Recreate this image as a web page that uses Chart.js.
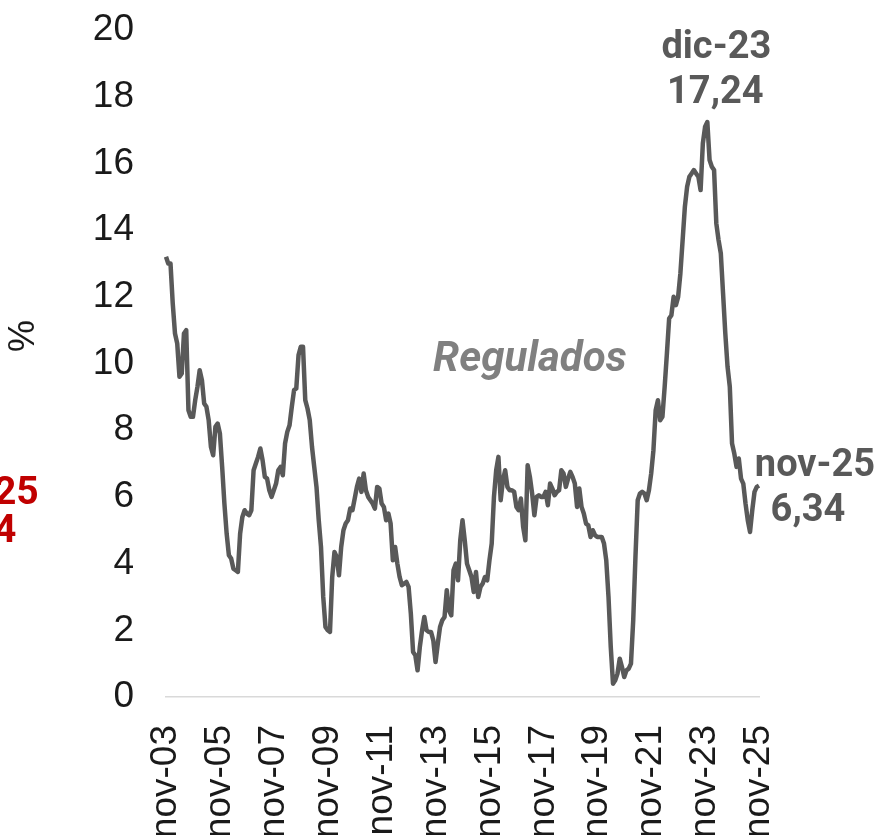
<!DOCTYPE html>
<html lang="es">
<head>
<meta charset="utf-8">
<title>Regulados</title>
<script src="https://cdn.jsdelivr.net/npm/chart.js@4.4.1/dist/chart.umd.min.js"></script>
<style>
  html, body { margin: 0; padding: 0; background: #fff; }
  #chart { position: relative; width: 879px; height: 835px; }
</style>
</head>
<body>
<div id="chart"><canvas id="canvas"></canvas></div>
<script>
const monthNames = ["ene", "feb", "mar", "abr", "may", "jun", "jul", "ago", "sep", "oct", "nov", "dic"];
const startYear = 2003;
const startMonth = 10; // nov

// inflación anual de regulados, %, nov-03 .. nov-25
const regulados = [
    13.2, 13.0, 13.0, 11.8, 10.9, 10.6, 9.6, 9.7, 10.9, 11.0, 8.6, 8.4,
    8.4, 8.9, 9.3, 9.8, 9.5, 8.8, 8.7, 8.3, 7.5, 7.25, 8.1, 8.2,
    7.9, 6.9, 5.8, 4.9, 4.25, 4.15, 3.85, 3.8, 3.75, 4.9, 5.4, 5.6,
    5.5, 5.45, 5.6, 6.8, 7.0, 7.2, 7.45, 7.1, 6.6, 6.55, 6.2, 6.0,
    6.2, 6.4, 6.8, 6.9, 6.65, 7.6, 7.95, 8.15, 8.7, 9.2, 9.25, 10.25,
    10.5, 10.5, 8.9, 8.65, 8.3, 7.5, 6.9, 6.3, 5.3, 4.5, 3.0, 2.1,
    2.0, 1.95, 3.6, 4.35, 4.2, 3.65, 4.5, 5.0, 5.2, 5.3, 5.65, 5.6,
    5.95, 6.3, 6.55, 6.15, 6.7, 6.2, 6.0, 5.9, 5.8, 5.65, 6.3, 6.25,
    5.8, 5.7, 5.3, 5.5, 5.2, 4.1, 4.5, 4.0, 3.6, 3.35, 3.4, 3.45,
    3.3, 2.5, 1.35, 1.25, 0.8, 1.5, 2.0, 2.4, 2.0, 1.95, 1.95, 1.7,
    1.05, 1.6, 2.1, 2.3, 2.4, 3.2, 2.6, 2.45, 3.8, 4.0, 3.5, 4.7,
    5.3, 4.7, 4.0, 3.8, 3.6, 3.15, 3.75, 3.0, 3.3, 3.4, 3.6, 3.5,
    4.1, 4.6, 6.0, 6.8, 7.2, 5.9, 6.5, 6.8, 6.3, 6.2, 6.2, 6.15,
    5.7, 5.6, 5.95, 5.1, 4.7, 6.95, 6.6, 6.1, 5.45, 6.0, 6.05, 6.0,
    6.0, 6.15, 5.75, 6.4, 6.25, 6.05, 6.15, 6.2, 6.8, 6.7, 6.3, 6.55,
    6.75, 6.6, 6.4, 5.7, 6.25, 5.7, 5.5, 5.2, 5.15, 4.8, 5.0, 4.85,
    4.8, 4.8, 4.8, 4.6, 4.1, 3.0, 1.5, 0.4, 0.5, 0.7, 1.15, 0.9,
    0.6, 0.8, 0.85, 1.0, 2.3, 4.2, 5.9, 6.1, 6.15, 6.1, 5.9, 6.2,
    6.7, 7.4, 8.6, 8.9, 8.3, 8.4, 9.3, 10.3, 11.35, 11.45, 12.0, 11.75,
    12.0, 12.7, 13.7, 14.7, 15.3, 15.6, 15.7, 15.8, 15.7, 15.6, 15.2, 16.6,
    17.1, 17.24, 16.1, 15.9, 15.8, 14.2, 13.7, 13.3, 12.1, 10.9, 9.9, 9.3,
    7.6, 7.3, 6.9, 7.15, 6.55, 6.4, 5.8, 5.3, 4.95, 5.6, 6.15, 6.3,
    6.34
];

const tickLabels = ["nov-03", "nov-05", "nov-07", "nov-09", "nov-11", "nov-13",
    "nov-15", "nov-17", "nov-19", "nov-21", "nov-23", "nov-25"];

const peakLabel = ["dic-23", "17,24"];
const lastLabel = ["nov-25", "6,34"];

const categories = regulados.map((_, i) => {
    const m = (startMonth + i) % 12;
    const y = startYear + Math.floor((startMonth + i) / 12);
    return monthNames[m] + "-" + String(y % 100).padStart(2, "0");
});

const lineColor = "#595959";
const tickFont = "'Liberation Sans', Arial, sans-serif";
const labelFont = "Roboto, 'Noto Sans', sans-serif";

const labelsPlugin = {
    id: "labels",
    afterDatasetsDraw(chart) {
        const { ctx, scales: { x, y } } = chart;
        ctx.save();
        ctx.textAlign = "center";
        ctx.textBaseline = "middle";

        // pico
        const pi = categories.indexOf(peakLabel[0]);
        const px = x.getPixelForValue(pi);
        const py = y.getPixelForValue(regulados[pi]);
        ctx.fillStyle = lineColor;
        ctx.font = "bold 38px " + labelFont;
        ctx.fillText(peakLabel[0], px + 9, py - 74);
        ctx.fillText(peakLabel[1], px + 8, py - 29);

        // ultimo dato
        const li = categories.indexOf(lastLabel[0]);
        const lx = x.getPixelForValue(li);
        const ly = y.getPixelForValue(regulados[li]);
        ctx.fillText(lastLabel[0], lx + 56, ly - 19);
        ctx.fillText(lastLabel[1], lx + 49, ly + 26);

        // nombre de la serie
        ctx.fillStyle = "#808080";
        ctx.font = "italic bold 42px " + labelFont;
        ctx.fillText("Regulados", x.getPixelForValue(162), y.getPixelForValue(10.1));

        // resto del gráfico vecino (cortado)
        ctx.fillStyle = "#c00000";
        ctx.font = "bold 39px " + labelFont;
        ctx.fillText("nov-25", -23, 494);
        ctx.fillText("6,34", -22, 532);

        // unidad
        ctx.fillStyle = "#1a1a1a";
        ctx.font = "36px " + tickFont;
        ctx.translate(24, 336);
        ctx.rotate(-Math.PI / 2);
        ctx.fillText("%", 0, 0);
        ctx.restore();
    }
};

new Chart(document.getElementById("canvas"), {
    type: "line",
    data: {
        labels: categories,
        datasets: [{
            label: "Regulados",
            data: regulados,
            borderColor: lineColor,
            borderWidth: 4.5,
            borderJoinStyle: "round",
            pointRadius: 0,
            tension: 0,
            fill: false
        }]
    },
    options: {
        responsive: true,
        maintainAspectRatio: false,
        animation: false,
        layout: { padding: { top: 30, right: 120, bottom: 0, left: 0 } },
        plugins: { legend: { display: false }, tooltip: { enabled: false } },
        scales: {
            x: {
                offset: false,
                grid: { display: false },
                border: { display: true, color: "#d9d9d9", width: 1.5 },
                ticks: {
                    autoSkip: false,
                    minRotation: 90,
                    maxRotation: 90,
                    padding: 20,
                    color: "#1a1a1a",
                    font: { family: tickFont, size: 37 },
                    callback: (v, i) => tickLabels.includes(categories[i]) ? categories[i] : ""
                },
                afterFit: (s) => {
                    s.height = 138;
                    s.paddingLeft = 0;
                    s.paddingRight = 0;
                }
            },
            y: {
                min: 0,
                max: 20,
                grid: { display: false },
                border: { display: false },
                ticks: {
                    stepSize: 2,
                    padding: 24,
                    color: "#1a1a1a",
                    font: { family: tickFont, size: 37 }
                },
                afterFit: (s) => {
                    s.width = 166;
                    s.paddingTop = 0;
                    s.paddingBottom = 0;
                }
            }
        }
    },
    plugins: [labelsPlugin]
});
</script>
</body>
</html>
